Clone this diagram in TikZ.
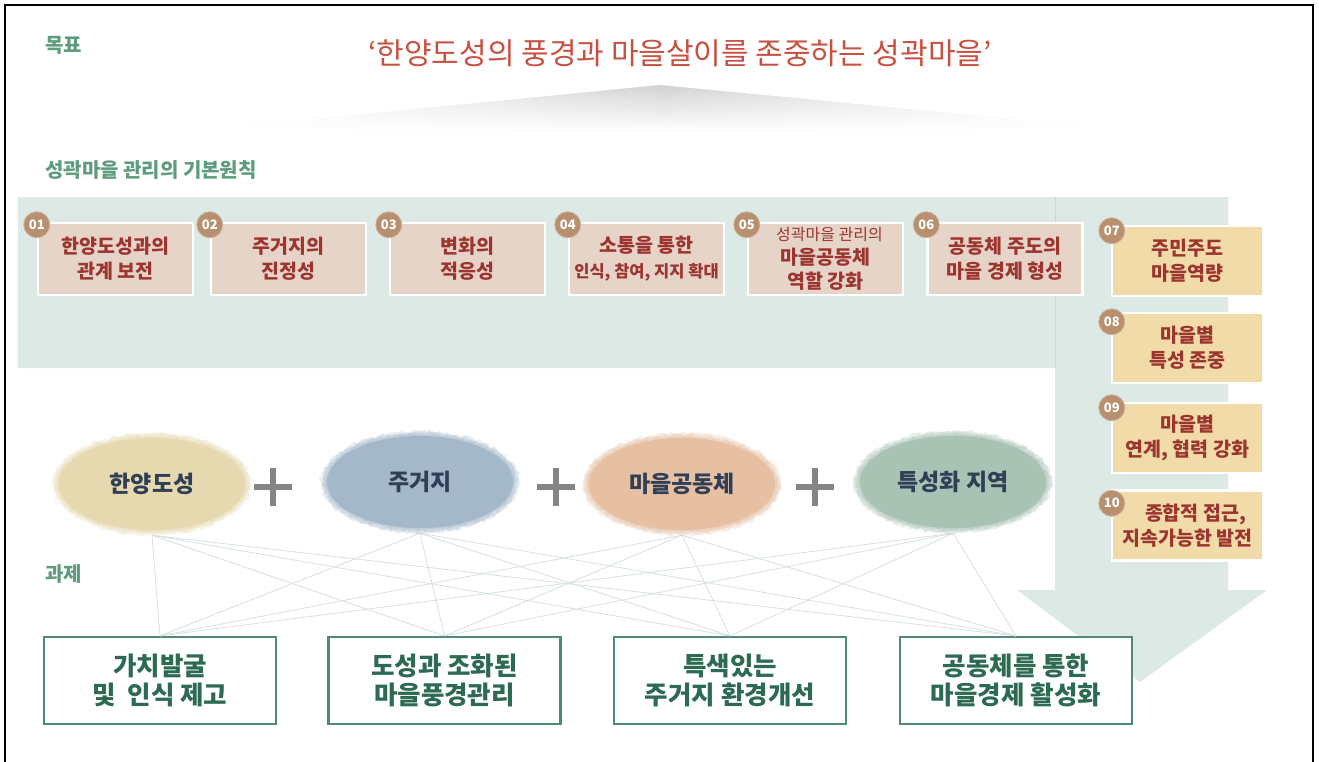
\documentclass[tikz,border=0pt]{standalone}
\usepackage{fontspec}
\setmainfont{Noto Sans CJK KR}
\usetikzlibrary{shapes.geometric,fadings,decorations.pathmorphing}
\definecolor{bandc}{HTML}{DCE9E5}
\definecolor{pfill}{HTML}{E7D4C9}
\definecolor{yfill}{HTML}{F1DCA9}
\definecolor{ptext}{HTML}{9C3530}
\definecolor{numc}{HTML}{B8906F}
\definecolor{titlec}{HTML}{C94F40}
\definecolor{labc}{HTML}{5E9C7E}
\definecolor{tborder}{HTML}{4F8A73}
\definecolor{ttext}{HTML}{2C6A52}
\definecolor{blobtext}{HTML}{2F3F55}
\definecolor{cA}{HTML}{E6D9AF}
\definecolor{cB}{HTML}{A4B8C9}
\definecolor{cC}{HTML}{E7C0A4}
\definecolor{cD}{HTML}{A8C2B4}
\definecolor{connc}{HTML}{D6E1DD}
\definecolor{plusc}{HTML}{858585}
\tikzfading[name=fadedown, top color=transparent!0, bottom color=transparent!100]
\begin{document}
\begin{tikzpicture}[x=1pt,y=-1pt,
  pbox/.style={draw=white, line width=2.5pt, fill=pfill, minimum width=155pt, minimum height=72pt, inner sep=0pt, align=center, text=ptext, font=\fontsize{19.5}{25}\selectfont\bfseries},
  ybox/.style={pbox, fill=yfill, minimum width=151pt, minimum height=70pt},
  numb/.style={circle, fill=numc, draw=numc!70!white, line width=0.8pt, minimum size=26pt, inner sep=0pt, text=white, font=\fontsize{13}{13}\selectfont\bfseries},
  tbox/.style={draw=tborder, line width=2.2pt, fill=white, minimum width=232pt, minimum height=87pt, inner sep=0pt, align=center, text=ttext, font=\fontsize{25.5}{29}\selectfont\bfseries},
  blob/.style={ellipse, minimum width=198pt, minimum height=102pt, inner sep=0pt},
  blobtxt/.style={text=blobtext, font=\fontsize{23}{26}\selectfont\bfseries},
  lab/.style={text=labc, font=\fontsize{20}{22}\selectfont\bfseries, inner sep=0pt},
  conn/.style={draw=connc, line width=0.8pt},
  plus/.style={draw=plusc, line width=6pt}
]
\useasboundingbox (0,0) rectangle (1319,761);
\fill[white] (0,0) rectangle (1319,761);
% frame
\draw[line width=1.2pt] (5,770) -- (5,5) -- (1313,5) -- (1313,770);

% band + arrow
\fill[bandc] (18,197) -- (1228,197) -- (1228,590) -- (1267,590) -- (1140,682)
  -- (1017,590) -- (1055,590) -- (1055,368) -- (18,368) -- cycle;
\draw[bandc!85!black, line width=0.5pt, opacity=0.5] (1055,197) -- (1055,368);

% wedge
\shade[left color=white, right color=white, middle color=gray!35, path fading=fadedown] (190,131) -- (660,85) -- (1140,131) -- cycle;

% labels
\node[lab, anchor=west] (lgoal) at (45,45) {목표};
\node[text=titlec, font=\fontsize{30}{34}\selectfont] (title) at (680,53) {‘한양도성의 풍경과 마을살이를 존중하는 성곽마을’};
\node[lab, anchor=west] (lprin) at (45,170) {성곽마을 관리의 기본원칙};
\node[lab, anchor=west] (ltask) at (45,574) {과제};

% principle boxes
\node[pbox] (p1) at (115.5,259) {한양도성과의\\관계 보전};
\node[pbox] (p2) at (288.5,259) {주거지의\\진정성};
\node[pbox] (p3) at (467.5,259) {변화의\\적응성};
\node[pbox] (p4) at (646.5,259) {소통을 통한\\{\fontsize{16.5}{22}\selectfont 인식, 참여, 지지 확대}};
\node[pbox] (p5) at (825.5,259) {{\fontsize{16}{20}\selectfont\mdseries\hspace*{8pt}성곽마을 관리의}\\[-1pt]마을공동체\\[-1pt]역할 강화};
\node[pbox] (p6) at (1005,259) {공동체 주도의\\마을 경제 형성};
\node[ybox] (p7) at (1187.5,261) {주민주도\\마을역량};
\node[ybox] (p8) at (1187.5,348) {마을별\\특성 존중};
\node[ybox] (p9) at (1187.5,438) {마을별\\연계, 협력 강화};
\node[ybox] (p10) at (1187.5,525.5) {\hspace*{16pt}종합적 접근,\\지속가능한 발전};

\foreach \p/\n in {p1/01,p2/02,p3/03,p4/04,p5/05,p6/06}
  \node[numb] (n\p) at ([shift={(0,3)}]\p.north west) {\n};
\node[numb] (np7) at ([shift={(1,6)}]p7.north west) {07};
\node[numb] (np8) at ([shift={(1,10)}]p8.north west) {08};
\node[numb] (np9) at ([shift={(1,6)}]p9.north west) {09};
\node[numb] (np10) at ([shift={(1,14)}]p10.north west) {10};

% task boxes
\node[tbox] (t1) at (160,680.5) {가치발굴\\및\ \ 인식 제고};
\node[tbox] (t2) at (444.5,680.5) {도성과 조화된\\마을풍경관리};
\node[tbox] (t3) at (730,680.5) {특색있는\\주거지 환경개선};
\node[tbox] (t4) at (1016,680.5) {공동체를 통한\\마을경제 활성화};

% blob anchors (invisible ellipses)
\node[blob] (b1) at (152,484) {};
\node[blob] (b2) at (420,482) {};
\node[blob] (b3) at (682,484) {};
\node[blob] (b4) at (953,482) {};

% connectors
\foreach \b in {b1,b2,b3,b4}
  \foreach \t in {t1,t2,t3,t4}
    \draw[conn] (\b.south) -- (\t.north);

% fuzzy blob fills
\foreach \b/\c in {b1/cA,b2/cB,b3/cC,b4/cD}{
  \foreach \d in {0,...,5}
    \fill[\c, opacity=0.25, decorate, decoration={random steps, segment length=2.5pt, amplitude=1.6pt}]
      (\b.center) ellipse [x radius={92pt+\d*1.5pt}, y radius={45pt+\d*1.3pt}];
  \fill[\c] (\b.center) ellipse [x radius=93pt, y radius=46pt];
}
\node[blobtxt] (tb1) at (b1.center) {한양도성};
\node[blobtxt] (tb2) at (b2.center) {주거지};
\node[blobtxt] (tb3) at (b3.center) {마을공동체};
\node[blobtxt] (tb4) at (b4.center) {특성화 지역};

% plus signs
\foreach \x in {273,556,815}{
  \draw[plus] (\x-19,487) -- (\x+19,487);
  \draw[plus] (\x,468) -- (\x,506);
}
\end{tikzpicture}
\end{document}
